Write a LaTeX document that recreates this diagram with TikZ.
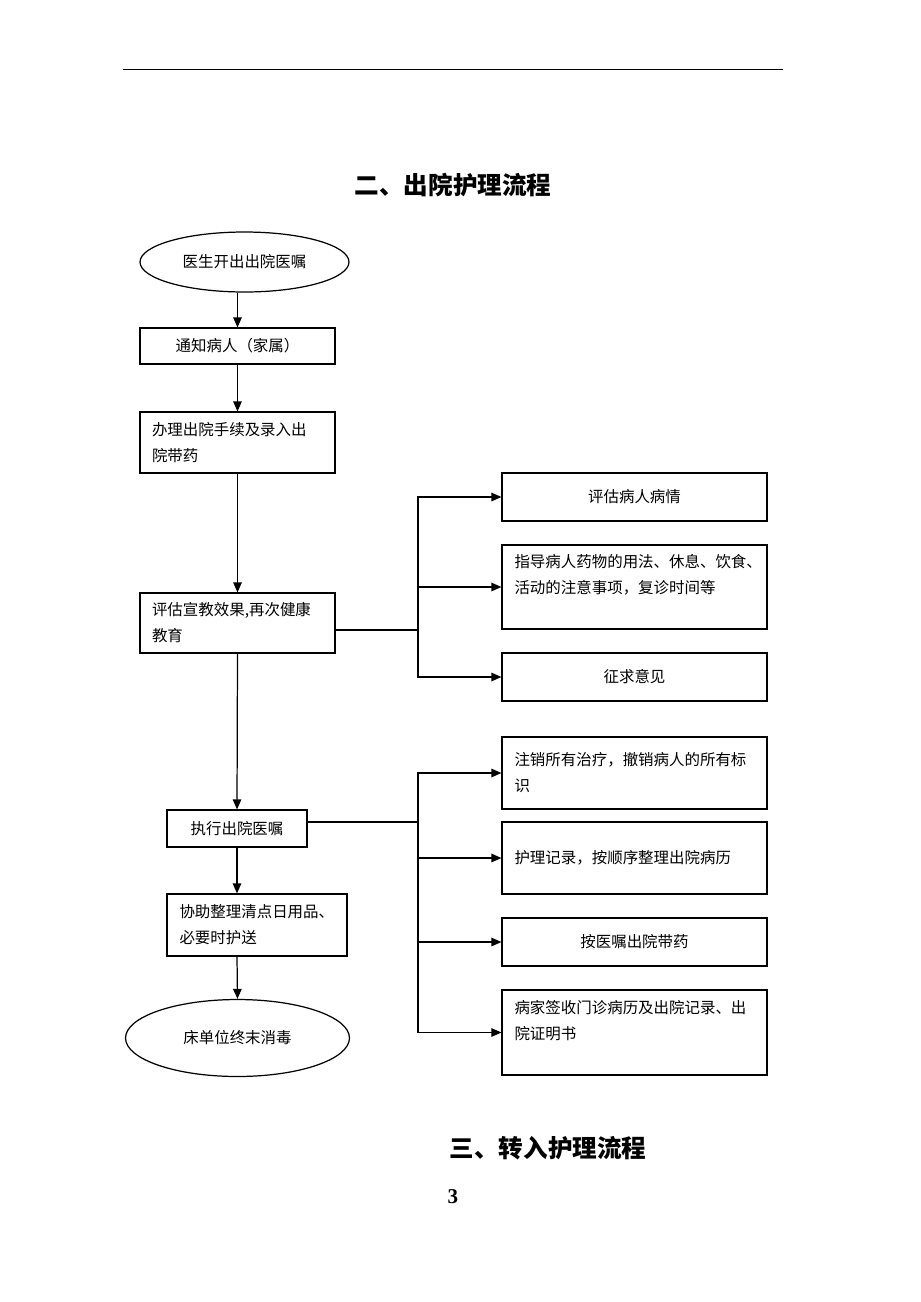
\documentclass[tikz,border=0pt]{standalone}
\usepackage{fontspec}
\setmainfont{Liberation Serif}
\newfontfamily\cjk{Noto Sans CJK SC}
\usetikzlibrary{arrows.meta,shapes.geometric}

\begin{document}
\begin{tikzpicture}[x=0.02cm, y=-0.02cm,
    every node/.style={font=\cjk\fontsize{8.8}{14.8}\selectfont},
    stepbox/.style={draw, line width=0.7pt, inner sep=0pt},
    endcap/.style={draw, ellipse, line width=0.7pt, inner sep=0pt},
    flow/.style={line width=0.7pt, -{Triangle[length=2mm,width=1.7mm]}},
    link/.style={line width=0.7pt}]
    \useasboundingbox (0,0) rectangle (920,1302);
    \draw [line width=0.5pt] (123,69) -- (783,69);
    \node [font=\cjk\bfseries\fontsize{14}{16}\selectfont] (title) at (453,185) {二、出院护理流程};
    \node [endcap, minimum width=4.18cm, minimum height=1.2cm] (start) at (244.5,262) {医生开出出院医嘱};
    \node [stepbox, minimum width=3.9cm, minimum height=0.72cm] (notify) at (237.5,346) {通知病人（家属）};
    \node [stepbox, minimum width=3.9cm, minimum height=1.22cm, text width=3.42cm, align=left] (handle) at (237.5,442.5) {办理出院手续及录入出\\院带药};
    \node [stepbox, minimum width=3.9cm, minimum height=1.2cm, text width=3.42cm, align=left] (educate) at (237.5,623) {评估宣教效果,再次健康\\教育};
    \node [stepbox, minimum width=2.8cm, minimum height=0.74cm] (exec) at (237,828.5) {执行出院医嘱};
    \node [stepbox, minimum width=3.6cm, minimum height=1.24cm, text width=3.1cm, align=left] (assist) at (257,925) {协助整理清点日用品、\\必要时护送};
    \node [endcap, minimum width=4.48cm, minimum height=1.54cm] (bed) at (237.5,1038) {床单位终末消毒};
    \node [stepbox, minimum width=5.3cm, minimum height=0.96cm] (assess) at (634.5,497) {评估病人病情};
    \node [stepbox, minimum width=5.3cm, minimum height=1.68cm, text width=4.8cm, align=left] (guide) at (634.5,587) {指导病人药物的用法、休息、饮食、\\活动的注意事项，复诊时间等\\~};
    \node [stepbox, minimum width=5.3cm, minimum height=0.96cm] (opinion) at (634.5,677) {征求意见};
    \node [stepbox, minimum width=5.3cm, minimum height=1.44cm, text width=4.8cm, align=left] (cancel) at (634.5,773) {注销所有治疗，撤销病人的所有标\\识};
    \node [stepbox, minimum width=5.3cm, minimum height=1.44cm, text width=4.8cm, align=left] (record) at (634.5,858) {护理记录，按顺序整理出院病历};
    \node [stepbox, minimum width=5.3cm, minimum height=0.96cm] (carry) at (634.5,942) {按医嘱出院带药};
    \node [stepbox, minimum width=5.3cm, minimum height=1.7cm, text width=4.8cm, align=left] (sign) at (634.5,1032.5) {病家签收门诊病历及出院记录、出\\院证明书\\~};
    \node [font=\cjk\bfseries\fontsize{14}{16}\selectfont] (title2) at (548,1148) {三、转入护理流程};
    \node [font=\bfseries\fontsize{12}{14}\selectfont] (page) at (453,1197) {3};
    \coordinate (fork1) at (418,630);
    \coordinate (fork2) at (418,822);
    \draw [flow] (start.south -| notify.north) -- (notify.north);
    \draw [flow] (notify.south) -- (handle.north);
    \draw [flow] (handle.south) -- (educate.north);
    \draw [flow] (educate.south) -- (exec.north);
    \draw [flow] (exec.south) -- (exec.south |- assist.north);
    \draw [flow] (exec.south |- assist.south) -- (bed.north);
    \draw [link] (educate.east |- fork1) -- (fork1);
    \draw [flow] (fork1) |- (assess.west);
    \draw [flow] (fork1) |- (guide.west);
    \draw [flow] (fork1) |- (opinion.west);
    \draw [link] (exec.east |- fork2) -- (fork2);
    \draw [flow] (fork2) |- (cancel.west);
    \draw [flow] (fork2) |- (record.west);
    \draw [flow] (fork2) |- (carry.west);
    \draw [flow] (fork2) |- (sign.west);
\end{tikzpicture}
\end{document}
